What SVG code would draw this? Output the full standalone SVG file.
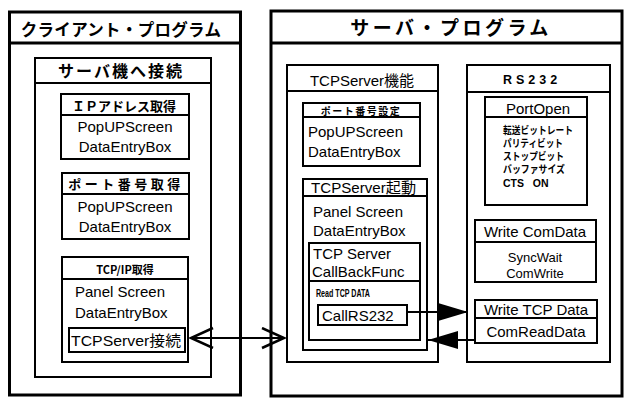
<svg xmlns="http://www.w3.org/2000/svg" width="626" height="399" viewBox="0 0 626 399">
<defs>
<style>
.bg{fill:#fff}
.ob{fill:#fff;stroke:#000;stroke-width:3}
.b{fill:#fff;stroke:#000;stroke-width:2}
.ln{stroke:#000;stroke-width:2;fill:none}
.lnt{stroke:#000;stroke-width:3;fill:none}
text{font-family:"Liberation Sans","Noto Sans CJK JP",sans-serif;fill:#000}
.t15{font-size:15px}
.hd{font-weight:bold;font-family:"Noto Sans CJK JP","Liberation Sans",sans-serif}
.sm{font-size:10.5px;font-weight:bold}
.c{text-anchor:middle}
.con{stroke:#000;stroke-width:2;fill:none}
</style>
<marker id="fa" markerUnits="userSpaceOnUse" markerWidth="32" markerHeight="20" refX="30" refY="9" orient="auto">
<path d="M0,0 L30,9 L0,18 Z" fill="#000"/>
</marker>
<marker id="oa" markerUnits="userSpaceOnUse" markerWidth="28" markerHeight="24" refX="23" refY="11" orient="auto-start-reverse">
<path d="M1,1 L23,11 L1,21" fill="none" stroke="#000" stroke-width="2.5"/>
</marker>
</defs>
<rect class="bg" x="0" y="0" width="626" height="399"/>

<g id="client">
<rect class="ob" x="9.5" y="12" width="231" height="383"/>
<line class="lnt" x1="9.5" y1="43" x2="240.5" y2="43"/>
<text class="hd c" x="121" y="36" font-size="16.5" letter-spacing="0.3">クライアント・プログラム</text>
</g>

<g id="connect">
<rect class="b" x="35" y="58" width="176" height="319"/>
<line class="ln" x1="35" y1="83" x2="211" y2="83"/>
<text class="hd c" x="121" y="77" font-size="16" letter-spacing="2">サーバ機へ接続</text>
</g>

<g id="ipaddr">
<rect class="b" x="61" y="94" width="128" height="65"/>
<line class="ln" x1="61" y1="115" x2="189" y2="115"/>
<text class="hd c" x="124" y="111" font-size="13">ＩＰアドレス取得</text>
<text class="t15 c" x="125" y="132">PopUPScreen</text>
<text class="t15 c" x="125" y="152">DataEntryBox</text>
</g>

<g id="portget">
<rect class="b" x="62" y="173" width="127" height="66"/>
<line class="ln" x1="62" y1="194" x2="189" y2="194"/>
<text class="hd c" x="126" y="189" font-size="13" letter-spacing="3.5">ポート番号取得</text>
<text class="t15 c" x="125" y="212">PopUPScreen</text>
<text class="t15 c" x="125" y="232">DataEntryBox</text>
</g>

<g id="tcpip">
<rect class="b" x="62" y="257" width="126" height="105"/>
<line class="ln" x1="62" y1="279" x2="188" y2="279"/>
<text class="hd c" x="125" y="274" font-size="11">TCP/IP取得</text>
<text class="t15" x="75" y="297">Panel Screen</text>
<text class="t15" x="75" y="318">DataEntryBox</text>
</g>

<g id="tcpserverconn">
<rect class="b" x="69" y="328" width="116" height="24"/>
<text class="t15" x="71" y="346" textLength="110" lengthAdjust="spacingAndGlyphs">TCPServer接続</text>
</g>

<g id="server">
<rect class="ob" x="271" y="11" width="351" height="385"/>
<line class="lnt" x1="271" y1="43" x2="622" y2="43"/>
<text class="hd c" x="451" y="35" font-size="19" letter-spacing="3.5">サーバ・プログラム</text>
</g>

<g id="tcpserverfunc">
<rect class="b" x="287" y="65" width="151" height="297"/>
<line class="ln" x1="287" y1="91" x2="438" y2="91"/>
<text class="t15 c" x="362" y="86">TCPServer機能</text>
</g>

<g id="portset">
<rect class="b" x="303" y="103" width="117" height="63"/>
<line class="ln" x1="303" y1="117" x2="420" y2="117"/>
<text class="hd c" x="361" y="115" font-size="10" letter-spacing="1.5">ポート番号設定</text>
<text class="t15" x="308" y="137">PopUPScreen</text>
<text class="t15" x="308" y="157">DataEntryBox</text>
</g>

<g id="tcpserverstart">
<rect class="b" x="303" y="179" width="124" height="171"/>
<line class="ln" x1="303" y1="196" x2="427" y2="196"/>
<text class="t15" x="311" y="193" textLength="105" lengthAdjust="spacingAndGlyphs">TCPServer起動</text>
<text class="t15" x="313" y="217">Panel Screen</text>
<text class="t15" x="313" y="236">DataEntryBox</text>
</g>

<g id="callback">
<rect class="b" x="309" y="243" width="111" height="97"/>
<line class="ln" x1="309" y1="281" x2="420" y2="281"/>
<text class="t15" x="313" y="259">TCP Server</text>
<text class="t15" x="312" y="277">CallBackFunc</text>
<text class="sm" x="316" y="297" font-size="9" textLength="54" lengthAdjust="spacingAndGlyphs">Read TCP DATA</text>
</g>

<g id="callrs232">
<rect class="b" x="318" y="305" width="89" height="20"/>
<text class="t15" x="322" y="321">CallRS232</text>
</g>

<g id="rs232">
<rect class="b" x="467" y="65" width="143" height="297"/>
<line class="ln" x1="467" y1="92" x2="610" y2="92"/>
<text class="c" x="532" y="84" font-size="12.5" font-weight="bold" letter-spacing="4">RS232</text>
</g>

<g id="portopen">
<rect class="b" x="485" y="97" width="102" height="108"/>
<line class="ln" x1="485" y1="117" x2="587" y2="117"/>
<text class="t15 c" x="538" y="114">PortOpen</text>
<text class="sm" x="503" y="134" textLength="70" lengthAdjust="spacingAndGlyphs">転送ビットレート</text>
<text class="sm" x="503" y="147" textLength="60" lengthAdjust="spacingAndGlyphs">パリティビット</text>
<text class="sm" x="503" y="160" textLength="61" lengthAdjust="spacingAndGlyphs">ストップビット</text>
<text class="sm" x="503" y="173" textLength="62" lengthAdjust="spacingAndGlyphs">バッファサイズ</text>
<text class="sm" x="503" y="187" xml:space="preserve">CTS   ON</text>
</g>

<g id="writecom">
<rect class="b" x="475" y="220" width="121" height="62"/>
<line class="ln" x1="475" y1="242" x2="596" y2="242"/>
<text class="t15 c" x="535" y="237">Write ComData</text>
<text class="c" x="535" y="262" font-size="13">SyncWait</text>
<text class="c" x="535" y="278" font-size="13">ComWrite</text>
</g>

<g id="writetcp">
<rect class="b" x="475" y="300" width="122" height="43"/>
<line class="ln" x1="475" y1="318" x2="597" y2="318"/>
<text class="t15 c" x="536" y="315">Write TCP Data</text>
<text class="t15 c" x="536" y="337">ComReadData</text>
</g>

<g id="connectors">
<line class="con" x1="191" y1="338" x2="284" y2="338" marker-start="url(#oa)" marker-end="url(#oa)"/>
<line class="con" x1="407" y1="312" x2="468" y2="312" marker-end="url(#fa)"/>
<line class="con" x1="475" y1="340" x2="428" y2="340" marker-end="url(#fa)"/>
</g>
</svg>
